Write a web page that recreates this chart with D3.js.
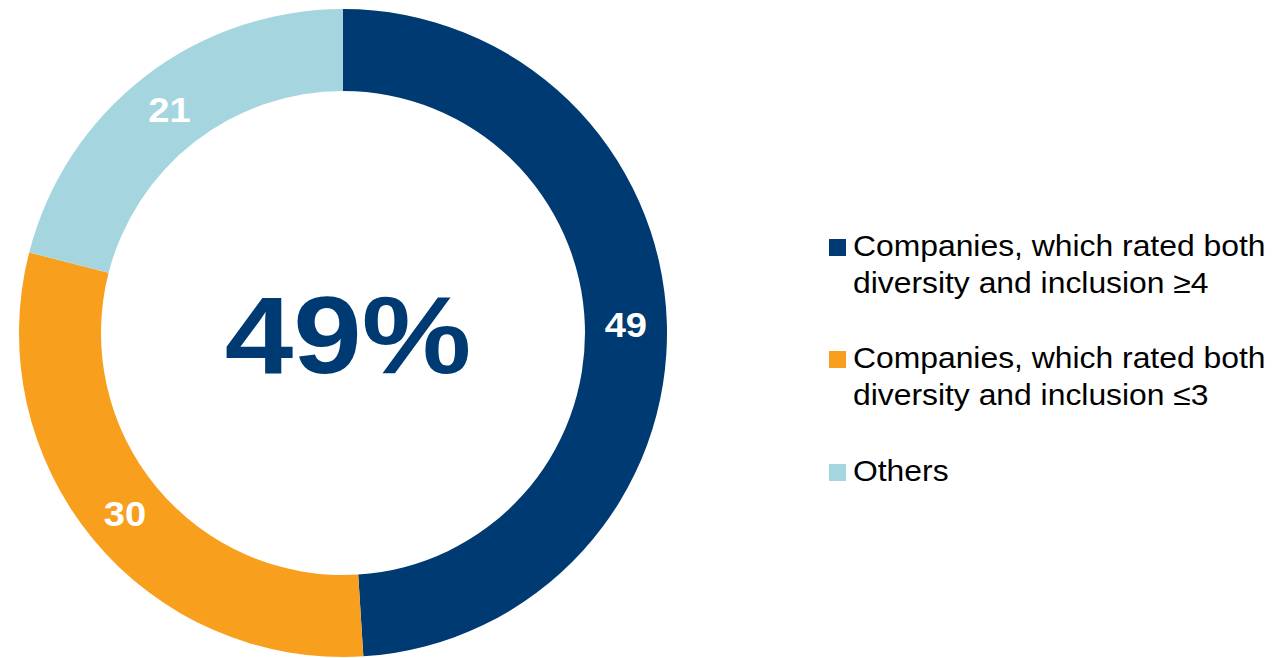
<!DOCTYPE html>
<html>
<head>
<meta charset="utf-8">
<script src="https://cdn.jsdelivr.net/npm/d3@7"></script>
<style>
  html, body { margin: 0; padding: 0; background: #fff; }
  svg { display: block; }
  text { font-family: "Liberation Sans", Arial, sans-serif; }
</style>
</head>
<body>
<svg id="chart" width="1276" height="658"></svg>
<script>
// Survey shares (percent), drawn clockwise from 12 o'clock
const categories = [
  ["Companies, which rated both", "diversity and inclusion \u22654"],
  ["Companies, which rated both", "diversity and inclusion \u22643"],
  ["Others"]
];
const values = [49, 30, 21];
const colors = ["#003A72", "#F89F1E", "#A5D6DF"];
const centerLabel = "49%";

const svg = d3.select("#chart");
const cx = 343, cy = 333;
const outerR = 324, innerR = 242;

const pie = d3.pie().sort(null).value(d => d)(values);
const arc = d3.arc().innerRadius(innerR).outerRadius(outerR);
const midR = (innerR + outerR) / 2;
const labelArc = d3.arc().innerRadius(midR).outerRadius(midR);

const g = svg.append("g").attr("transform", `translate(${cx},${cy})`);

g.selectAll("path.slice")
  .data(pie)
  .join("path")
  .attr("class", "slice")
  .attr("d", arc)
  .attr("fill", (d, i) => colors[i]);

// Slice values, slightly widened type
g.selectAll("text.val")
  .data(pie)
  .join("text")
  .attr("class", "val")
  .attr("transform", d => `translate(${labelArc.centroid(d)}) scale(1.09,1)`)
  .attr("text-anchor", "middle")
  .attr("dy", "0.36em")
  .attr("fill", "#fff")
  .attr("font-weight", "bold")
  .attr("font-size", 35)
  .text(d => d.data);

// Headline figure in the hole
g.append("text")
  .attr("transform", "translate(5,40) scale(1.12,1)")
  .attr("text-anchor", "middle")
  .attr("fill", "#003A72")
  .attr("font-weight", "bold")
  .attr("font-size", 110)
  .text(centerLabel);

// Legend
const legend = svg.append("g").attr("transform", "translate(829,0)");
const itemBaselines = [256, 368, 481];
const lineGap = 37;
const sq = 17;

const items = legend.selectAll("g.item")
  .data(categories)
  .join("g")
  .attr("class", "item")
  .attr("transform", (d, i) => `translate(0,${itemBaselines[i]})`);

items.append("rect")
  .attr("x", 0)
  .attr("y", -sq)
  .attr("width", sq)
  .attr("height", sq)
  .attr("fill", (d, i) => colors[i]);

items.append("text")
  .attr("transform", "translate(24,0) scale(1.08,1)")
  .attr("font-size", 29.5)
  .attr("fill", "#000")
  .selectAll("tspan")
  .data(d => d)
  .join("tspan")
  .attr("x", 0)
  .attr("y", (d, j) => j * lineGap)
  .text(d => d);
</script>
</body>
</html>
